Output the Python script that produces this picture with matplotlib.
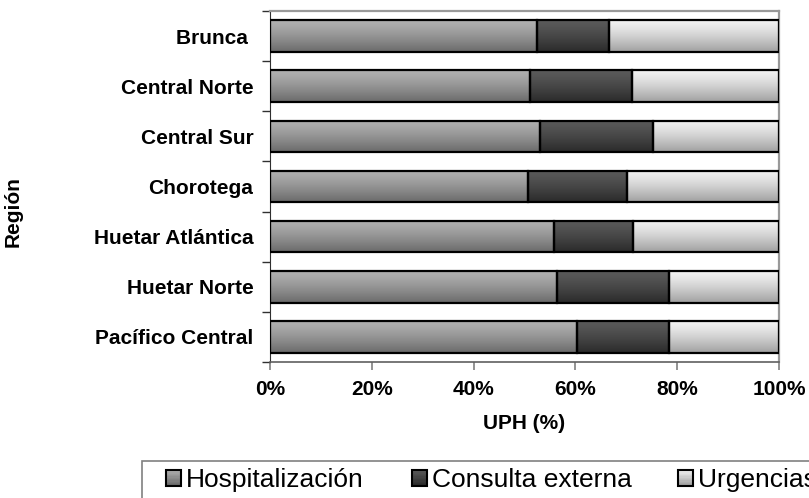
import numpy as np
import matplotlib
matplotlib.use('Agg')
import matplotlib.pyplot as plt
from matplotlib.patches import Rectangle
from matplotlib.legend_handler import HandlerBase
from matplotlib.colors import to_rgb

plt.rcParams['font.family'] = ['Liberation Sans', 'DejaVu Sans']

# regions, top to bottom as in the chart
regions = ['Brunca ', 'Central Norte', 'Central Sur', 'Chorotega',
           'Huetar Atlántica', 'Huetar Norte', 'Pacífico Central']
# share of UPH (%) per service
hospitalizacion = [52.5, 51.1, 53.0, 50.6, 55.8, 56.4, 60.4]
consulta = [14.1, 20.0, 22.2, 19.5, 15.6, 22.0, 18.0]
urgencias = [33.4, 28.9, 24.8, 29.9, 28.6, 21.6, 21.6]

series = ['Hospitalización', 'Consulta externa', 'Urgencias']
# gradient colours, top -> bottom
grads = [('#b0b0b0', '#6a6a6a'), ('#5a5a5a', '#2a2a2a'), ('#f2f2f2', '#a0a0a0')]

fig = plt.figure(figsize=(8.09, 4.98), dpi=100)
ax = fig.add_axes([270 / 809, 1 - 362 / 498, 509 / 809, 351 / 498])

n = len(regions)
ypos = np.arange(n)[::-1]
h = 0.63
data = [np.array(hospitalizacion) / 100, np.array(consulta) / 100, np.array(urgencias) / 100]


def grad_img(c0, c1, steps=64):
    a = np.array(to_rgb(c0))
    b = np.array(to_rgb(c1))
    t = np.linspace(0, 1, steps) ** 1.3
    return (a[None, :] + (b - a)[None, :] * t[:, None])[:, None, :]


left = np.zeros(n)
for vals, (c0, c1) in zip(data, grads):
    img = grad_img(c0, c1)
    for y, l, v in zip(ypos, left, vals):
        ax.imshow(img, extent=(l, l + v, y - h / 2, y + h / 2), origin='upper',
                  aspect='auto', interpolation='bilinear', zorder=2)
    ax.barh(ypos, vals, left=left, height=h, facecolor='none',
            edgecolor='black', linewidth=1.6, zorder=3)
    left = left + vals

ax.set_xlim(0, 1)
ax.set_ylim(-0.5, n - 0.5)
ax.set_yticks(ypos)
ax.set_yticklabels(regions, fontsize=15, fontweight='bold')
ax.set_yticks(np.arange(-0.5, n, 1), minor=True)
ax.tick_params(axis='y', which='major', length=0, pad=12)
ax.tick_params(axis='y', which='minor', length=6, width=1, color='#303030')
ax.set_xticks(np.arange(0, 1.01, 0.2))
ax.set_xticklabels(['0%', '20%', '40%', '60%', '80%', '100%'], fontsize=15, fontweight='bold')
ax.tick_params(axis='x', length=6, width=1.2, color='#808080', pad=7)
ax.set_xlabel('UPH (%)', fontsize=15, fontweight='bold', labelpad=11)

for s in ['top', 'right']:
    ax.spines[s].set_color('#999999')
    ax.spines[s].set_linewidth(1.6)
ax.spines['left'].set_color('#303030')
ax.spines['bottom'].set_color('#606060')
ax.spines['bottom'].set_linewidth(1.2)

fig.text(13 / 809, 1 - 212 / 498, 'Región', rotation=90, ha='center', va='center',
         fontsize=15, fontweight='bold')


class GradHandler(HandlerBase):
    def __init__(self, c0, c1):
        super().__init__()
        self.c0 = np.array(to_rgb(c0))
        self.c1 = np.array(to_rgb(c1))

    def create_artists(self, legend, orig_handle, xdescent, ydescent, width, height, fontsize, trans):
        arts = []
        k = 12
        for i in range(k):
            col = self.c0 + (self.c1 - self.c0) * (i / (k - 1))
            arts.append(Rectangle((-xdescent, -ydescent + height * (1 - (i + 1) / k)), width, height / k,
                                  facecolor=col, edgecolor='none', transform=trans))
        arts.append(Rectangle((-xdescent, -ydescent), width, height, facecolor='none',
                              edgecolor='black', linewidth=1.5, transform=trans))
        return arts


# Excel-style legend, the last entry runs off the right edge as in the original
slot_x = [166, 412, 678]
for name, (c0, c1), sx in zip(series, grads, slot_x):
    hd = Rectangle((0, 0), 1, 1)
    fig.legend([hd], [name], loc='upper left', bbox_to_anchor=(sx / 809, 1 - 468 / 498),
               frameon=False, fontsize=19, borderpad=0, borderaxespad=0,
               handlelength=0.55, handleheight=0.55, handletextpad=0.2,
               handler_map={hd: GradHandler(c0, c1)})
fig.patches.append(Rectangle((142 / 809, -0.1), 1.0, 0.1 + 37 / 498, transform=fig.transFigure,
                             facecolor='none', edgecolor='#808080', linewidth=1.2))

fig.savefig('out.png', dpi=100)
